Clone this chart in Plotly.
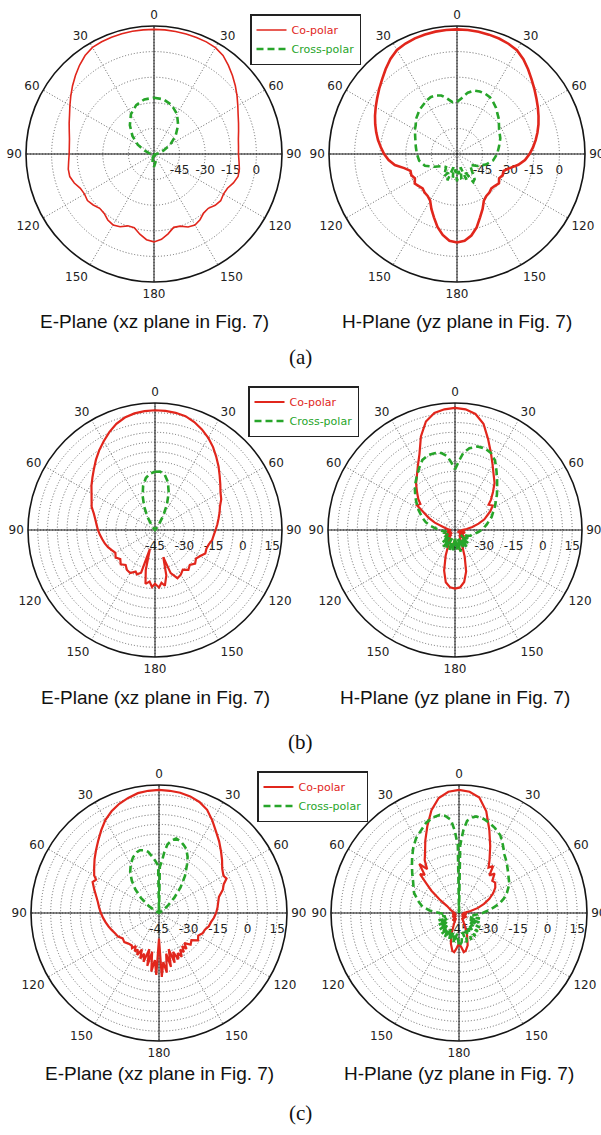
import plotly.graph_objects as go

W, H = 601, 1135
RED = "#e1261c"
GREEN = "#27a52a"

# ---------------- angular / radial tick labels ----------------
ANG_VALS = [0, 30, 60, 90, 120, 150, 180, 210, 240, 270, 300, 330]
ANG_TEXT = ["0", "30", "60", "90", "120", "150", "180", "150", "120", "90", "60", "30"]
RANGE_A = [-60, 15]
RTICK_A = [-45, -30, -15, 0]
RTEXT_A = ["-45", "-30", "-15", "0"]
RANGE_BC = [-45, 20]
RTICK_BC = [-45, -40, -35, -30, -25, -20, -15, -10, -5, 0, 5, 10, 15]
RTEXT_BC = ["-45", "", "", "-30", "", "", "-15", "", "", "0", "", "", "15"]

# ---------------- (a) E-plane ----------------
A_E_CO_T = list(range(0, 361, 5))
A_E_CO_R = [13.0, 13.0, 12.9, 12.8, 12.7, 12.5, 12.0, 10.5, 7.8, 5.0, 2.2, -0.6, -3.3, -5.6, -7.3,
            -8.7, -9.8, -10.3, -10.5, -10.0, -9.2, -9.0, -10.5, -12.5, -13.0, -12.3, -13.2, -15.0,
            -14.8, -13.0, -12.0, -12.8, -15.0, -15.5, -12.5, -9.8, -8.5,
            -9.6, -12.3, -15.3, -15.2, -13.0, -12.0, -12.8, -14.6, -15.0, -13.5, -12.4, -13.0,
            -12.4, -10.3, -8.9, -9.0, -9.8, -10.3, -10.2, -9.7, -8.6, -7.1, -5.4, -3.1, -0.5, 2.3,
            5.1, 7.9, 10.4, 12.1, 12.6, 12.8, 12.9, 13.0, 13.0, 13.0]
A_E_X_T = list(range(0, 361, 10))
A_E_X_R = [-27, -27.5, -29.5, -33, -38, -43.5, -49, -54, -57, -58.5, -59, -59.5, -59.5, -59.5,
           -59.5, -59.5, -58, -55, -52.5, -55, -58, -59.5, -59.5, -59.5, -59.5, -59.5, -59, -58.5,
           -57, -54, -49, -43.5, -38, -33, -29.5, -27.5, -27]

# ---------------- (a) H-plane ----------------
A_H_CO_T = list(range(0, 361, 5))
A_H_CO_R = [13.0, 12.9, 12.7, 12.4, 12.0, 11.3, 10.2, 7.8, 4.8, 1.8, -0.8, -3.2, -5.3, -7.3, -9.2,
            -11.2, -13.2, -15.3, -17.5, -20.0, -23.5, -28.0, -31.0, -30.5, -31.5, -30.0, -31.0,
            -31.5, -30.5, -30.0, -28.5, -24.5, -20.5, -15.5, -11.5, -9.0, -8.2,
            -9.0, -11.8, -15.8, -20.5, -24.5, -28.5, -30.0, -30.5, -31.5, -30.8, -29.8, -31.5,
            -30.5, -31.0, -28.0, -23.0, -19.8, -17.3, -15.2, -13.0, -11.0, -9.0, -7.0, -5.0, -2.9,
            -0.5, 2.0, 5.0, 8.0, 10.4, 11.4, 12.1, 12.5, 12.8, 12.9, 13.0]
A_H_X_T = [0, 5, 10, 15, 20, 25, 30, 35, 40, 45, 50, 55, 60, 70, 80, 90, 100, 110, 120, 130, 140,
           145, 150, 155, 160, 165, 170, 175, 180, 185, 190, 195, 200, 205, 210, 220, 230, 240,
           250, 260, 270, 280, 290, 300, 305, 310, 320, 330, 335, 340, 345, 350, 355, 360]
A_H_X_R = [-29.5, -27, -23.5, -21.5, -21, -21, -21.5, -23, -24.5, -26.5, -28, -30, -31.5, -33,
           -35, -36.5, -38.5, -42, -46, -50, -46, -42, -41, -48, -44, -52, -45, -50, -44, -51,
           -46, -52, -43.5, -48, -45, -50, -49, -45, -40, -37.5, -36.5, -35.5, -34, -31.5, -30.5,
           -28.5, -26, -24, -23.3, -23.5, -24.5, -27, -29.5, -29.5]

# ---------------- (b) E-plane ----------------
B_E_CO_T = list(range(0, 156, 5)) + [160, 163, 166, 170, 173, 176, 180, 183, 186, 190, 193, 195,
                                     198, 202] + list(range(205, 361, 5))
B_E_CO_R = [16.3, 16.2, 15.9, 15.3, 13.8, 11.8, 9.5, 6.8, 3.8, 1.0, -1.8, -4.2, -6.3, -7.6, -9.6,
            -10.8, -12.0, -13.0, -14.0, -14.8, -15.3, -16.5, -17.0, -16.6, -18.3, -19.4, -18.2,
            -19.8, -18.4, -20.2, -18.6, -17.8,
            -21.5, -30.5, -21.0, -16.0, -17.8, -15.5, -17.5, -15.8, -18.5, -17.0, -24.0, -35.0,
            -22.0, -20.5,
            -21.5, -19.6, -20.0, -21.6, -20.2, -21.8, -20.4, -21.6, -20.6, -19.4, -18.4, -17.6,
            -16.7, -15.8, -15.0, -14.0, -12.6, -10.5, -9.2, -7.5, -5.3, -3.2, -0.8, 2.0, 4.8, 7.5,
            10.3, 12.8, 14.6, 15.6, 16.1, 16.3]
B_E_X_T = [0, 5, 10, 15, 20, 25, 30, 35, 40, 45, 315, 320, 325, 330, 335, 340, 345, 350, 355, 360]
B_E_X_R = [-15.2, -15.0, -16.3, -19.5, -24.5, -30.5, -36.5, -41.5, -44.5, -45, -45, -44.5, -42,
           -37.5, -32, -26.5, -21.5, -18.0, -16.0, -15.2]

# ---------------- (b) H-plane ----------------
B_H_CO_T = [0, 5, 10, 15, 20, 25, 30, 35, 40, 45, 50, 53, 57, 62] + list(range(65, 301, 5)) + \
           [303, 307] + list(range(310, 361, 5))
B_H_CO_R = [17.5, 17.0, 15.3, 11.3, 4.5, -1.5, -6.5, -10.5, -13.5, -17.5, -21.0, -23.5, -22.0,
            -24.5,
            -26.5, -29.0, -32.5, -36.0, -39.0, -41.5, -40.0, -43.0, -39.5, -42.5, -40.0, -43.5,
            -39.0, -42.0, -38.5, -41.5, -40.5, -40.0, -36.5, -30.5, -23.0, -18.0, -15.5, -15.0,
            -15.6, -17.8, -23.5, -31.0, -37.5, -40.5, -38.0, -42.0, -39.0, -43.0, -40.0, -42.5,
            -39.5, -43.0, -40.5, -42.5, -41.0, -43.0, -41.5, -40.5, -38.5, -34.0, -30.0, -26.0,
            -21.8, -22.8,
            -20.5, -17.5, -14.0, -11.0, -7.0, -2.0, 6.0, 12.5, 15.8, 17.0, 17.5]
B_H_X_T = [0, 3, 6] + list(range(10, 351, 5)) + [354, 357, 360]
B_H_X_R = [-14.0, -10.0, -5.5,
           -2.5, -0.8, -0.5, -1.5, -4.0, -8.0, -11.5, -14.5, -17.0, -19.5, -21.5, -23.5, -25.0,
           -27.0, -28.5, -30.0, -31.5, -33.0, -34.5, -36.0, -36.5, -38.0, -40.0, -37.0, -41.0,
           -35.5, -40.0, -34.0, -39.5, -35.0, -41.0, -33.5, -38.5, -35.0, -41.5, -34.5, -39.0,
           -33.5, -40.5, -35.0, -39.0, -34.5, -41.0, -36.0, -40.0, -37.5, -41.0, -39.5, -40.5,
           -39.5, -40.0, -38.5, -37.0, -35.0, -32.0, -29.5, -27.5, -25.5, -23.0, -21.0, -18.5,
           -16.0, -13.5, -11.0, -8.3, -5.5, -4.3, -4.3, -5.0,
           -7.0, -10.5, -14.0]

# ---------------- (c) E-plane ----------------
C_E_CO_T = list(range(0, 61, 5)) + [63, 66] + list(range(70, 141, 5)) + \
           [142.5 + 2.5 * k for k in range(31)] + list(range(220, 291, 5)) + [295, 298, 300] + \
           list(range(305, 361, 5))
C_E_CO_R = [17.5, 17.3, 17.0, 16.3, 15.0, 12.8, 9.2, 5.5, 2.5, -0.5, -3.2, -5.8, -7.2,
            -6.5, -9.0,
            -10.5, -13.5, -14.5, -15.2, -16.0, -17.0, -18.2, -18.8, -20.2, -20.6, -22.0, -20.8,
            -23.5, -22.3, -25.0,
            -22.0, -24.5, -21.5, -23.5, -20.0, -22.5, -19.5, -24.0, -18.5, -26.0, -17.0, -24.0,
            -14.5, -20.0, -12.5, -32.0, -13.5, -21.0, -15.0, -25.0, -17.5, -26.0, -19.0, -23.0,
            -20.0, -24.5, -21.0, -23.5, -22.0, -24.5, -22.5,
            -23.5, -23.0, -22.0, -22.5, -21.0, -20.5, -19.5, -18.5, -17.5, -16.5, -15.5, -14.5,
            -13.5, -12.0, -10.0,
            -7.8, -8.8, -7.0,
            -4.8, -2.3, 0.2, 3.0, 6.2, 9.5, 12.0, 14.0, 15.5, 16.8, 17.3, 17.5]
C_E_X_T = [0, 1, 3, 5, 7, 10, 13, 17, 20, 23, 27, 30, 35, 40, 45, 50, 55, 60, 295, 300, 305, 310,
           315, 320, 325, 330, 335, 340, 343, 347, 350, 353, 356, 359, 360]
C_E_X_R = [-45, -21.5, -19, -14, -10, -7.5, -6.2, -7, -8.3, -9.6, -13, -16.5, -22, -28, -34, -39,
           -43, -45, -45, -42.5, -38.5, -33, -28, -23.5, -19.5, -16.3, -13.8, -12.2, -11.7, -12.3,
           -13.5, -16, -18.5, -21, -45]

# ---------------- (c) H-plane ----------------
C_H_CO_T = [0, 5, 10, 15, 20, 25, 30, 33, 36, 39, 42, 46, 50, 55, 60, 65, 70, 75, 80, 85, 90, 100,
            110, 120, 130, 140, 150, 155, 160, 165, 170, 173, 176, 180, 184, 187, 190, 195, 200,
            205, 210, 220, 230, 240, 250, 260, 270, 280, 290, 300, 305, 309, 312, 315, 318, 321,
            324, 327, 330, 335, 340, 345, 350, 355, 360]
C_H_CO_R = [17.5, 16.8, 14.5, 8.5, 0.0, -7.5, -14.0, -17.5, -15.5, -20.5, -18.0, -21.5, -21.0,
            -22.5, -25.0, -28.0, -31.5, -35.0, -39.0, -41.5, -43.0, -41.0, -43.5, -40.5, -43.0,
            -41.0, -42.0, -38.0, -33.0, -28.0, -25.5, -25.0, -27.5, -29.5, -27.0, -25.0, -25.5,
            -29.0, -34.0, -39.0, -42.0, -40.0, -43.0, -41.0, -43.5, -41.5, -43.0, -42.0, -40.5,
            -38.0, -33.0, -27.0, -23.0, -17.0, -19.0, -13.0, -17.5, -13.0, -10.5, -4.5, 2.0, 9.0,
            14.3, 16.8, 17.5]
C_H_X_T = [0, 1, 3, 5, 8, 10, 15, 19, 23, 28, 33, 38, 41, 45, 50, 55, 60, 67, 72, 76, 80, 85, 90,
           95, 100] + list(range(105, 276, 5)) + [280, 285, 290, 294, 300, 305, 310, 315, 320,
                                                  325, 330, 335, 340, 345, 349, 352, 355, 357,
                                                  359, 360]
C_H_X_R = [-45, -10.6, -3.0, 2.0, 4.0, 4.8, 4.3, 3.2, 1.8, -0.3, -4.0, -7.5, -8.8, -10.5, -12.5,
           -14.2, -15.5, -18.5, -21.0, -23.4, -26.5, -30.0, -33.0, -36.0, -38.0,
           -34.0, -39.0, -33.5, -38.5, -32.0, -37.5, -31.5, -36.5, -30.5, -36.0, -30.0, -35.5,
           -29.5, -35.0, -30.0, -28.0, -34.5, -29.5, -35.0, -30.0, -36.0, -30.5, -35.5, -31.0,
           -37.0, -32.0, -38.0, -33.0, -38.5, -34.0, -38.0, -36.5, -38.0, -35.0, -30.0,
           -26.1, -24.0, -22.0, -20.0, -18.3, -16.5, -14.0, -11.2, -8.0, -4.5, -1.3, 1.0, 3.8,
           5.3, 5.8, 4.8, 2.5, -3.0, -10.6, -45]

SERIES_NAMES = ["Co-polar", "Cross-polar"]
TITLES = ["E-Plane (xz plane in Fig. 7)", "H-Plane (yz plane in Fig. 7)"]
ROW_LABELS = ["(a)", "(b)", "(c)"]

# ---------------- layout geometry (pixels) ----------------
CELLS = [
    dict(cx=154, cy=154, R=128, rng=RANGE_A, tv=RTICK_A, tt=RTEXT_A,
         co=(A_E_CO_T, A_E_CO_R), x=(A_E_X_T, A_E_X_R), cow=1.6, leg="legend"),
    dict(cx=457, cy=154, R=128, rng=RANGE_A, tv=RTICK_A, tt=RTEXT_A,
         co=(A_H_CO_T, A_H_CO_R), x=(A_H_X_T, A_H_X_R), cow=2.6, leg=None),
    dict(cx=155, cy=530, R=127, rng=RANGE_BC, tv=RTICK_BC, tt=RTEXT_BC,
         co=(B_E_CO_T, B_E_CO_R), x=(B_E_X_T, B_E_X_R), cow=2.2, leg="legend2"),
    dict(cx=455, cy=530, R=127, rng=RANGE_BC, tv=RTICK_BC, tt=RTEXT_BC,
         co=(B_H_CO_T, B_H_CO_R), x=(B_H_X_T, B_H_X_R), cow=2.2, leg=None),
    dict(cx=159, cy=913, R=128, rng=RANGE_BC, tv=RTICK_BC, tt=RTEXT_BC,
         co=(C_E_CO_T, C_E_CO_R), x=(C_E_X_T, C_E_X_R), cow=2.2, leg="legend3"),
    dict(cx=459, cy=913, R=128, rng=RANGE_BC, tv=RTICK_BC, tt=RTEXT_BC,
         co=(C_H_CO_T, C_H_CO_R), x=(C_H_X_T, C_H_X_R), cow=2.2, leg=None),
]
LEGEND_POS = {"legend": (250, 14), "legend2": (248, 386), "legend3": (257, 771)}
TITLE_Y = [322, 697, 1073]
ROW_Y = [357, 742, 1113]

for c in CELLS:
    for t, r in (c["co"], c["x"]):
        if len(t) != len(r):
            raise ValueError(f"length mismatch {len(t)} vs {len(r)}")

ANGFONT = dict(family="DejaVu Sans", size=12, color="#222")
RADFONT = dict(family="DejaVu Sans", size=12, color="#222")
layout = dict(width=W, height=H, margin=dict(l=0, r=0, t=0, b=0),
              paper_bgcolor="white", showlegend=True)

fig = go.Figure()
for i, c in enumerate(CELLS):
    nb, nt = 2 * i + 1, 2 * i + 2
    kb = "polar" if nb == 1 else f"polar{nb}"
    kt = f"polar{nt}"
    dom = dict(x=[(c["cx"] - c["R"]) / W, (c["cx"] + c["R"]) / W],
               y=[1 - (c["cy"] + c["R"]) / H, 1 - (c["cy"] - c["R"]) / H])
    layout[kb] = dict(
        domain=dom, bgcolor="white",
        radialaxis=dict(range=c["rng"], tickmode="array", tickvals=c["tv"], ticktext=c["tt"],
                        showline=False, ticks="outside", ticklen=5,
                        tickcolor="rgba(0,0,0,0)", gridcolor="#666", griddash="1px,2px",
                        gridwidth=1, angle=0, side="clockwise", tickfont=RADFONT, tickangle=0),
        angularaxis=dict(rotation=90, direction="clockwise", tickmode="array",
                         tickvals=ANG_VALS, ticktext=ANG_TEXT, gridcolor="#666",
                         griddash="1px,2px", gridwidth=1, showline=True, linecolor="#151515",
                         linewidth=1.6, ticks="outside", ticklen=1,
                         tickcolor="rgba(0,0,0,0)", tickfont=ANGFONT))
    layout[kt] = dict(
        domain=dom, bgcolor="rgba(0,0,0,0)",
        radialaxis=dict(range=c["rng"], showgrid=False, showticklabels=False, showline=False,
                        ticks=""),
        angularaxis=dict(rotation=90, direction="clockwise", tickmode="array",
                         tickvals=[0, 90, 180, 270], showticklabels=False, gridcolor="#151515",
                         gridwidth=1.4, showline=False, ticks="", layer="below traces"))
    # invisible carrier trace so the base (grid) subplot gets drawn
    fig.add_trace(go.Scatterpolar(
        r=c["co"][1], theta=c["co"][0], mode="lines", subplot=kb, opacity=0,
        line=dict(width=0.1, color="white"), showlegend=False, hoverinfo="skip"))
    show = c["leg"] is not None
    fig.add_trace(go.Scatterpolar(
        r=c["co"][1], theta=c["co"][0], mode="lines", subplot=kt,
        line=dict(color=RED, width=c["cow"]),
        name=f"<span style='color:{RED}'>{SERIES_NAMES[0]}</span>",
        showlegend=show, legend=c["leg"] if show else "legend"))
    fig.add_trace(go.Scatterpolar(
        r=c["x"][1], theta=c["x"][0], mode="lines", subplot=kt,
        line=dict(color=GREEN, width=2.6, dash="7px,4px"),
        name=f"<span style='color:{GREEN}'>{SERIES_NAMES[1]}</span>",
        showlegend=show, legend=c["leg"] if show else "legend"))

for lk, (lx, ly) in LEGEND_POS.items():
    layout[lk] = dict(x=lx / W, y=1 - ly / H, xanchor="left", yanchor="top", bgcolor="white",
                      bordercolor="#222", borderwidth=1.5, itemwidth=30, tracegroupgap=0,
                      font=dict(family="DejaVu Sans", size=11))

ann = []
for row in range(3):
    for col in range(2):
        c = CELLS[2 * row + col]
        ann.append(dict(text=TITLES[col], x=c["cx"] / W, y=1 - TITLE_Y[row] / H,
                        xref="paper", yref="paper", showarrow=False, xanchor="center",
                        yanchor="middle", font=dict(family="Liberation Sans", size=19,
                                                    color="#111")))
    ann.append(dict(text=ROW_LABELS[row], x=300 / W, y=1 - ROW_Y[row] / H, xref="paper",
                    yref="paper", showarrow=False, xanchor="center", yanchor="middle",
                    font=dict(family="Liberation Serif", size=21, color="#111")))
layout["annotations"] = ann

fig.update_layout(**layout)
fig.write_html("out.html")
